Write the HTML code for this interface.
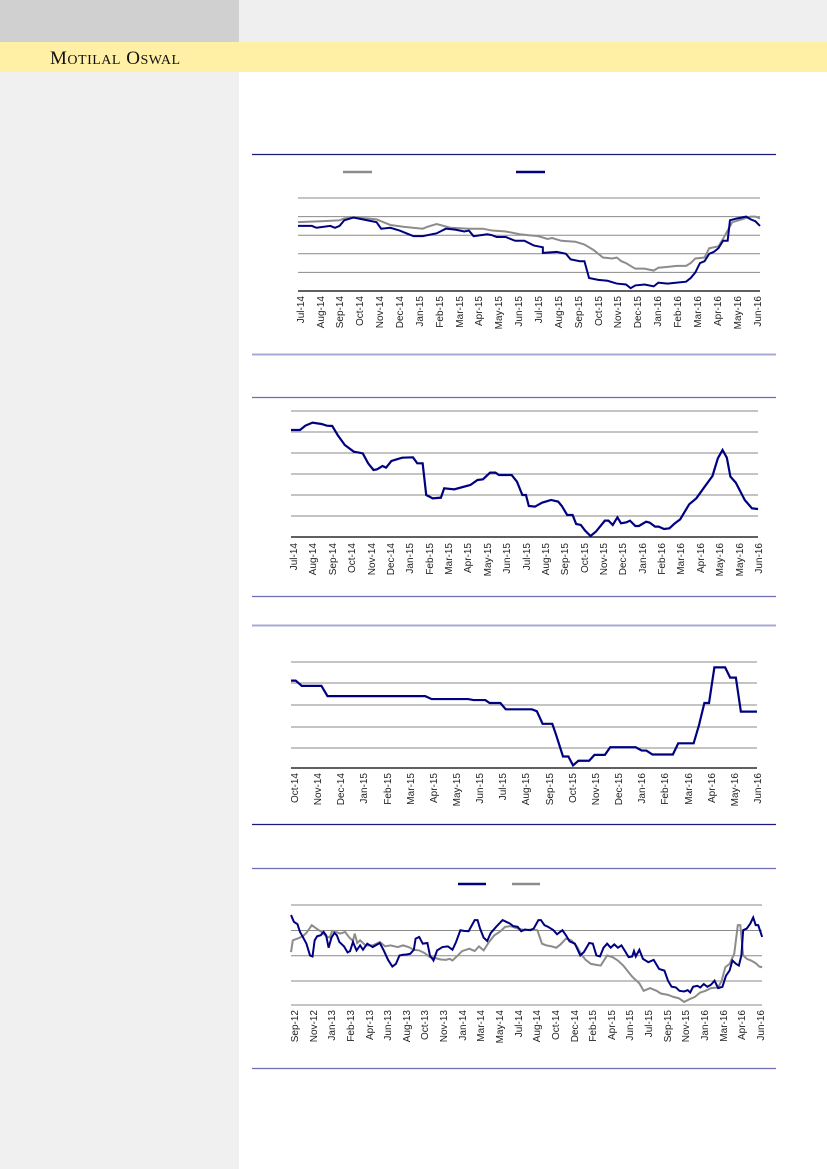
<!DOCTYPE html>
<html><head><meta charset="utf-8"><style>
html,body{margin:0;padding:0;width:827px;height:1169px;overflow:hidden;background:#fff}
svg{display:block}
text{font-family:"Liberation Sans",sans-serif;font-size:10px;fill:#222}
</style></head><body>
<svg width="827" height="1169" viewBox="0 0 827 1169" xmlns="http://www.w3.org/2000/svg">
<rect x="0" y="0" width="827" height="1169" fill="#fff"/>
<rect x="0" y="0" width="827" height="42" fill="#efefef"/>
<rect x="0" y="0" width="239" height="42" fill="#d0d0d0"/>
<rect x="0" y="42" width="827" height="30" fill="#fff0a5"/>
<rect x="0" y="72" width="239" height="1097" fill="#f0f0f0"/>
<text x="50" y="64" style="font-family:'Liberation Serif',serif;font-size:19px;fill:#111;letter-spacing:0.5px">M<tspan style="font-size:14px">OTILAL</tspan> O<tspan style="font-size:14px">SWAL</tspan></text>

<g fill="none" stroke-width="1.3">
<line x1="252" y1="154.5" x2="776" y2="154.5" stroke="#1a1a7a"/>
<line x1="252" y1="354.5" x2="776" y2="354.5" stroke="#a8a8d4" stroke-width="2"/>
<line x1="252" y1="397.5" x2="776" y2="397.5" stroke="#6e6eb8"/>
<line x1="252" y1="596.5" x2="776" y2="596.5" stroke="#6e6eb8"/>
<line x1="252" y1="625.5" x2="776" y2="625.5" stroke="#a8a8d4" stroke-width="2"/>
<line x1="252" y1="824.5" x2="776" y2="824.5" stroke="#1a1a7a"/>
<line x1="252" y1="868.5" x2="776" y2="868.5" stroke="#6e6eb8"/>
<line x1="252" y1="1068.5" x2="776" y2="1068.5" stroke="#6e6eb8"/>
</g>

<!-- Chart 1 -->
<line x1="343" y1="172" x2="372" y2="172" stroke="#8c8c8c" stroke-width="2.5"/>
<line x1="516" y1="172" x2="545" y2="172" stroke="#000080" stroke-width="2.5"/>
<g stroke="#8a8a8a" stroke-width="1">
<line x1="298" y1="198" x2="760" y2="198"/><line x1="298" y1="216.6" x2="760" y2="216.6"/><line x1="298" y1="235.2" x2="760" y2="235.2"/><line x1="298" y1="253.8" x2="760" y2="253.8"/><line x1="298" y1="272.4" x2="760" y2="272.4"/>
</g>
<line x1="298" y1="291" x2="760" y2="291" stroke="#000" stroke-width="1.3"/>
<g transform="translate(298,291) scale(462,-18.6)" fill="none">
<polyline vector-effect="non-scaling-stroke" stroke="#8c8c8c" stroke-width="2" points="0,3.7 0.05,3.75 0.09,3.8 0.1,3.9 0.12,3.95 0.15,3.9 0.17,3.85 0.2,3.55 0.23,3.45 0.27,3.35 0.28,3.45 0.3,3.6 0.33,3.4 0.37,3.35 0.4,3.35 0.42,3.25 0.45,3.2 0.48,3.05 0.5,3.0 0.52,2.95 0.54,2.8 0.55,2.85 0.57,2.7 0.6,2.65 0.62,2.5 0.64,2.2 0.66,1.8 0.68,1.75 0.69,1.8 0.7,1.6 0.71,1.5 0.73,1.2 0.75,1.2 0.76,1.15 0.77,1.1 0.78,1.25 0.8,1.3 0.82,1.35 0.84,1.35 0.85,1.5 0.86,1.75 0.88,1.8 0.89,2.3 0.91,2.4 0.92,2.8 0.94,3.7 0.96,3.85 0.98,4.0 0.99,4.0 1,3.9"/>
<polyline vector-effect="non-scaling-stroke" stroke="#000080" stroke-width="2" points="0,3.5 0.03,3.5 0.04,3.4 0.07,3.5 0.08,3.4 0.09,3.5 0.1,3.8 0.12,3.95 0.14,3.85 0.17,3.7 0.18,3.35 0.2,3.4 0.22,3.25 0.24,3.05 0.25,2.95 0.27,2.95 0.3,3.1 0.32,3.35 0.34,3.3 0.36,3.2 0.37,3.25 0.38,2.95 0.41,3.05 0.42,3.0 0.43,2.9 0.45,2.9 0.47,2.7 0.49,2.7 0.51,2.45 0.53,2.35 0.53,2.05 0.56,2.1 0.58,2.0 0.59,1.7 0.61,1.6 0.62,1.6 0.63,0.7 0.65,0.6 0.67,0.55 0.69,0.4 0.71,0.35 0.72,0.15 0.73,0.3 0.75,0.35 0.77,0.25 0.78,0.45 0.8,0.4 0.82,0.45 0.84,0.5 0.85,0.7 0.86,1.0 0.87,1.5 0.88,1.6 0.89,2.0 0.9,2.1 0.91,2.3 0.92,2.7 0.93,2.7 0.935,3.8 0.95,3.9 0.97,4.0 0.98,3.85 0.99,3.75 1,3.5"/>
</g>
<g text-anchor="end">
<text transform="translate(304,296) rotate(-90)">Jul-14</text>
<text transform="translate(324,296) rotate(-90)">Aug-14</text>
<text transform="translate(343,296) rotate(-90)">Sep-14</text>
<text transform="translate(363,296) rotate(-90)">Oct-14</text>
<text transform="translate(383,296) rotate(-90)">Nov-14</text>
<text transform="translate(403,296) rotate(-90)">Dec-14</text>
<text transform="translate(423,296) rotate(-90)">Jan-15</text>
<text transform="translate(443,296) rotate(-90)">Feb-15</text>
<text transform="translate(463,296) rotate(-90)">Mar-15</text>
<text transform="translate(482,296) rotate(-90)">Apr-15</text>
<text transform="translate(502,296) rotate(-90)">May-15</text>
<text transform="translate(522,296) rotate(-90)">Jun-15</text>
<text transform="translate(542,296) rotate(-90)">Jul-15</text>
<text transform="translate(562,296) rotate(-90)">Aug-15</text>
<text transform="translate(582,296) rotate(-90)">Sep-15</text>
<text transform="translate(602,296) rotate(-90)">Oct-15</text>
<text transform="translate(621,296) rotate(-90)">Nov-15</text>
<text transform="translate(641,296) rotate(-90)">Dec-15</text>
<text transform="translate(661,296) rotate(-90)">Jan-16</text>
<text transform="translate(681,296) rotate(-90)">Feb-16</text>
<text transform="translate(701,296) rotate(-90)">Mar-16</text>
<text transform="translate(721,296) rotate(-90)">Apr-16</text>
<text transform="translate(741,296) rotate(-90)">May-16</text>
<text transform="translate(761,296) rotate(-90)">Jun-16</text>
</g>

<!-- Chart 2 -->
<g stroke="#8a8a8a" stroke-width="1">
<line x1="291" y1="411" x2="758" y2="411"/><line x1="291" y1="432" x2="758" y2="432"/><line x1="291" y1="453" x2="758" y2="453"/><line x1="291" y1="474" x2="758" y2="474"/><line x1="291" y1="495" x2="758" y2="495"/><line x1="291" y1="516" x2="758" y2="516"/>
</g>
<line x1="291" y1="537" x2="758" y2="537" stroke="#000" stroke-width="1.3"/>
<g transform="translate(238.99,390) scale(0.3587,0.3333)" fill="none">
<polyline vector-effect="non-scaling-stroke" stroke="#000080" stroke-width="2.2" points="145,120 170,120 185,107 205,98 230,102 245,107 260,108 275,135 295,165 320,185 345,190 360,220 375,240 385,238 400,228 410,233 425,213 440,208 455,203 485,202 497,220 512,220 522,315 540,325 563,323 572,295 600,298 645,285 665,270 680,268 700,248 715,248 725,255 760,255 775,275 790,315 800,315 808,348 825,350 845,338 870,330 890,335 900,348 915,375 930,375 940,402 953,405 965,422 980,438 995,425 1020,392 1030,392 1042,405 1055,382 1065,400 1080,397 1090,392 1105,408 1115,408 1135,395 1145,398 1160,410 1170,410 1185,417 1200,415 1215,400 1230,388 1255,343 1275,325 1295,295 1320,258 1335,205 1348,180 1360,203 1370,260 1385,278 1410,330 1430,355 1447,357"/>
</g>
<g text-anchor="end">
<text transform="translate(297,543) rotate(-90)">Jul-14</text>
<text transform="translate(316,543) rotate(-90)">Aug-14</text>
<text transform="translate(336,543) rotate(-90)">Sep-14</text>
<text transform="translate(355,543) rotate(-90)">Oct-14</text>
<text transform="translate(375,543) rotate(-90)">Nov-14</text>
<text transform="translate(394,543) rotate(-90)">Dec-14</text>
<text transform="translate(413,543) rotate(-90)">Jan-15</text>
<text transform="translate(433,543) rotate(-90)">Feb-15</text>
<text transform="translate(452,543) rotate(-90)">Mar-15</text>
<text transform="translate(471,543) rotate(-90)">Apr-15</text>
<text transform="translate(491,543) rotate(-90)">May-15</text>
<text transform="translate(510,543) rotate(-90)">Jun-15</text>
<text transform="translate(530,543) rotate(-90)">Jul-15</text>
<text transform="translate(549,543) rotate(-90)">Aug-15</text>
<text transform="translate(568,543) rotate(-90)">Sep-15</text>
<text transform="translate(588,543) rotate(-90)">Oct-15</text>
<text transform="translate(607,543) rotate(-90)">Nov-15</text>
<text transform="translate(626,543) rotate(-90)">Dec-15</text>
<text transform="translate(646,543) rotate(-90)">Jan-16</text>
<text transform="translate(665,543) rotate(-90)">Feb-16</text>
<text transform="translate(684,543) rotate(-90)">Mar-16</text>
<text transform="translate(704,543) rotate(-90)">Apr-16</text>
<text transform="translate(723,543) rotate(-90)">May-16</text>
<text transform="translate(743,543) rotate(-90)">May-16</text>
<text transform="translate(762,543) rotate(-90)">Jun-16</text>
</g>

<!-- Chart 3 -->
<g stroke="#8a8a8a" stroke-width="1">
<line x1="291" y1="662" x2="757" y2="662"/><line x1="291" y1="683" x2="757" y2="683"/><line x1="291" y1="705" x2="757" y2="705"/><line x1="291" y1="727" x2="757" y2="727"/><line x1="291" y1="748" x2="757" y2="748"/>
</g>
<line x1="291" y1="768" x2="757" y2="768" stroke="#000" stroke-width="1.3"/>
<g transform="translate(239.1,620.2) scale(0.3579,0.33)" fill="none">
<polyline vector-effect="non-scaling-stroke" stroke="#000080" stroke-width="2.2" points="145,183 158,183 175,199 230,199 247,230 520,230 538,239 640,239 655,242 688,242 700,251 730,251 745,270 818,270 832,276 848,314 875,314 885,345 905,413 920,413 933,440 948,426 978,426 993,408 1022,408 1037,385 1108,385 1125,395 1138,395 1155,407 1212,407 1227,373 1270,373 1285,318 1300,251 1313,251 1328,143 1358,143 1372,174 1388,174 1402,277 1447,277"/>
</g>
<g text-anchor="end">
<text transform="translate(298,773) rotate(-90)">Oct-14</text>
<text transform="translate(321,773) rotate(-90)">Nov-14</text>
<text transform="translate(344,773) rotate(-90)">Dec-14</text>
<text transform="translate(367,773) rotate(-90)">Jan-15</text>
<text transform="translate(391,773) rotate(-90)">Feb-15</text>
<text transform="translate(414,773) rotate(-90)">Mar-15</text>
<text transform="translate(437,773) rotate(-90)">Apr-15</text>
<text transform="translate(460,773) rotate(-90)">May-15</text>
<text transform="translate(483,773) rotate(-90)">Jun-15</text>
<text transform="translate(506,773) rotate(-90)">Jul-15</text>
<text transform="translate(529,773) rotate(-90)">Aug-15</text>
<text transform="translate(553,773) rotate(-90)">Sep-15</text>
<text transform="translate(576,773) rotate(-90)">Oct-15</text>
<text transform="translate(599,773) rotate(-90)">Nov-15</text>
<text transform="translate(622,773) rotate(-90)">Dec-15</text>
<text transform="translate(645,773) rotate(-90)">Jan-16</text>
<text transform="translate(668,773) rotate(-90)">Feb-16</text>
<text transform="translate(692,773) rotate(-90)">Mar-16</text>
<text transform="translate(715,773) rotate(-90)">Apr-16</text>
<text transform="translate(738,773) rotate(-90)">May-16</text>
<text transform="translate(761,773) rotate(-90)">Jun-16</text>
</g>

<!-- Chart 4 -->
<line x1="458" y1="884" x2="486" y2="884" stroke="#000080" stroke-width="2.5"/>
<line x1="512" y1="884" x2="540" y2="884" stroke="#8c8c8c" stroke-width="2.5"/>
<g stroke="#8a8a8a" stroke-width="1">
<line x1="291" y1="905" x2="762" y2="905"/><line x1="291" y1="930.5" x2="762" y2="930.5"/><line x1="291" y1="955.8" x2="762" y2="955.8"/><line x1="291" y1="981" x2="762" y2="981"/><line x1="291" y1="1005" x2="762" y2="1005"/>
</g>
<g transform="translate(238.4,859.5) scale(0.358,0.3367)" fill="none">
<polyline vector-effect="non-scaling-stroke" stroke="#8c8c8c" stroke-width="2" points="147,275 152,240 165,235 180,228 190,218 205,195 218,205 232,215 245,228 255,232 262,212 272,215 285,220 298,215 310,232 320,242 325,220 332,248 340,240 355,255 375,255 395,245 410,258 425,255 445,260 460,255 475,260 490,268 505,270 520,278 535,290 550,293 565,297 580,298 590,295 598,300 610,288 625,272 645,265 660,272 672,258 685,270 700,245 715,225 730,215 745,200 760,198 780,205 800,210 818,208 835,210 848,250 860,255 875,258 888,262 900,252 915,235 930,240 945,258 960,285 970,298 985,310 1000,313 1012,315 1030,285 1045,290 1060,300 1075,315 1090,335 1100,348 1120,368 1132,390 1150,382 1168,390 1180,398 1200,402 1215,408 1230,412 1245,423 1260,415 1275,408 1290,395 1305,390 1320,382 1340,380 1350,360 1360,320 1372,310 1385,280 1395,195 1402,195 1410,285 1420,295 1432,300 1445,308 1455,318 1463,320"/>
<polyline vector-effect="non-scaling-stroke" stroke="#000080" stroke-width="2" points="147,165 155,185 165,192 172,215 180,230 190,250 200,285 207,288 213,240 220,228 230,225 238,215 245,225 252,262 260,232 268,218 275,225 282,245 295,258 305,276 312,272 320,245 330,270 340,255 348,268 360,250 375,260 395,248 405,268 418,298 430,318 440,310 450,285 460,283 470,282 480,280 490,268 495,235 505,230 515,250 528,248 535,285 545,300 555,270 570,260 585,258 598,268 608,245 620,210 630,212 643,213 660,180 668,180 675,205 685,232 695,242 705,218 720,200 738,180 758,190 768,198 780,200 790,213 800,208 815,210 825,205 838,180 845,180 855,195 865,200 880,210 890,222 905,210 915,225 925,243 940,250 955,285 965,275 980,248 990,250 1000,285 1010,288 1020,262 1030,250 1040,262 1050,252 1060,262 1070,255 1080,272 1090,290 1100,288 1105,272 1110,288 1120,268 1130,295 1145,305 1160,298 1175,325 1190,330 1200,360 1210,378 1222,380 1232,390 1245,392 1255,388 1262,395 1270,378 1282,375 1290,380 1300,370 1310,378 1320,372 1330,360 1340,382 1352,378 1362,345 1372,330 1380,300 1390,310 1398,315 1405,285 1410,210 1420,205 1430,190 1438,172 1445,195 1452,195 1463,230"/>
</g>
<g text-anchor="end">
<text transform="translate(298,1010) rotate(-90)">Sep-12</text>
<text transform="translate(317,1010) rotate(-90)">Nov-12</text>
<text transform="translate(335,1010) rotate(-90)">Jan-13</text>
<text transform="translate(354,1010) rotate(-90)">Feb-13</text>
<text transform="translate(373,1010) rotate(-90)">Apr-13</text>
<text transform="translate(391,1010) rotate(-90)">Jun-13</text>
<text transform="translate(410,1010) rotate(-90)">Aug-13</text>
<text transform="translate(428,1010) rotate(-90)">Oct-13</text>
<text transform="translate(447,1010) rotate(-90)">Nov-13</text>
<text transform="translate(466,1010) rotate(-90)">Jan-14</text>
<text transform="translate(484,1010) rotate(-90)">Mar-14</text>
<text transform="translate(503,1010) rotate(-90)">May-14</text>
<text transform="translate(522,1010) rotate(-90)">Jul-14</text>
<text transform="translate(540,1010) rotate(-90)">Aug-14</text>
<text transform="translate(559,1010) rotate(-90)">Oct-14</text>
<text transform="translate(578,1010) rotate(-90)">Dec-14</text>
<text transform="translate(596,1010) rotate(-90)">Feb-15</text>
<text transform="translate(615,1010) rotate(-90)">Apr-15</text>
<text transform="translate(633,1010) rotate(-90)">Jun-15</text>
<text transform="translate(652,1010) rotate(-90)">Jul-15</text>
<text transform="translate(671,1010) rotate(-90)">Sep-15</text>
<text transform="translate(689,1010) rotate(-90)">Nov-15</text>
<text transform="translate(708,1010) rotate(-90)">Jan-16</text>
<text transform="translate(727,1010) rotate(-90)">Mar-16</text>
<text transform="translate(745,1010) rotate(-90)">Apr-16</text>
<text transform="translate(764,1010) rotate(-90)">Jun-16</text>
</g>
</svg>
</body></html>
